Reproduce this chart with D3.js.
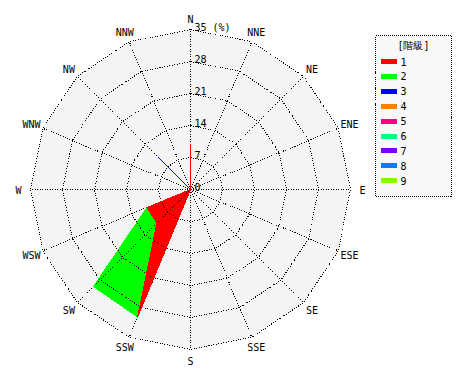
<!DOCTYPE html>
<html>
<head>
<meta charset="utf-8">
<script src="https://cdn.jsdelivr.net/npm/d3@7"></script>
<style>
  body { margin: 0; background: #fff; }
  text { font-family: "DejaVu Sans Mono", monospace; font-size: 10px; fill: #000; }
</style>
</head>
<body>
<div id="chart"></div>
<script>
// 16 directions, clockwise from north
var directions = ["N", "NNE", "NE", "ENE", "E", "ESE", "SE", "SSE",
                  "S", "SSW", "SW", "WSW", "W", "WNW", "NW", "NNW"];
var classes = ["1", "2", "3", "4", "5", "6", "7", "8", "9"];
var colors = ["#ff0000", "#00ff00", "#0000ff", "#ff8000", "#ff0080",
              "#00ff80", "#8000ff", "#0080ff", "#80ff00"];
var ringTicks = [0, 7, 14, 21, 28, 35];

// frequency (%) per class, per direction (same order as directions)
var class1 = [10, 0, 0, 0, 0, 0, 0, 0, 0, 30.2, 10.4, 10.3, 0, 0, 0, 0];
var class2 = [0, 0, 0, 0, 0, 0, 0, 0, 0, 0, 19.6, 0, 0, 0, 0, 0];
var class3 = [0, 0, 0, 0, 0, 0, 0, 0, 0, 0, 0, 0, 0, 0, 10, 0];
var class4 = [0, 0, 0, 0, 0, 0, 0, 0, 0, 0, 0, 0, 0, 0, 0, 0];
var class5 = [0, 0, 0, 0, 0, 0, 0, 0, 0, 0, 0, 0, 0, 0, 0, 0];
var class6 = [0, 0, 0, 0, 0, 0, 0, 0, 0, 0, 0, 0, 0, 0, 0, 0];
var class7 = [0, 0, 0, 0, 0, 0, 0, 0, 0, 0, 0, 0, 0, 0, 0, 0];
var class8 = [0, 0, 0, 0, 0, 0, 0, 0, 0, 0, 0, 0, 0, 0, 0, 0];
var class9 = [0, 0, 0, 0, 0, 0, 0, 0, 0, 0, 0, 0, 0, 0, 0, 0];
var series = [class1, class2, class3, class4, class5, class6, class7, class8, class9];

var svgWidth = 470, svgHeight = 380;
var cx = 190.5, cy = 189.5, radius = 160;

var svg = d3.select("#chart").append("svg")
  .attr("width", svgWidth)
  .attr("height", svgHeight)
  .attr("shape-rendering", "crispEdges");

var g = svg.append("g").attr("transform", `translate(${cx}, ${cy})`);

var r = d3.scaleLinear().domain([0, 35]).range([0, radius]);
var angle = d3.scaleLinear().domain([0, directions.length]).range([0, 2 * Math.PI]);

function pt(i, v) {
  var a = angle(i);
  return [Math.sin(a) * r(v), -Math.cos(a) * r(v)];
}

// background polygon
g.append("polygon")
  .attr("points", directions.map((d, i) => pt(i, 35).join(",")).join(" "))
  .attr("fill", "#f4f4f4");

// cumulative values; draw highest class first
var cumulative = [];
series.forEach(function(s, k) {
  cumulative.push(s.map((v, i) => v + (k > 0 ? cumulative[k - 1][i] : 0)));
});
var layers = cumulative.map((c, k) => ({ c: c, k: k })).reverse();

var radial = d3.lineRadial()
  .angle((d, i) => angle(i))
  .radius(d => r(d))
  .curve(d3.curveLinearClosed);

g.selectAll("path.fill")
  .data(layers)
  .enter().append("path")
  .attr("class", "fill")
  .attr("d", d => radial(d.c))
  .attr("fill", d => colors[d.k]);

// grid rings
g.selectAll("polygon.ring")
  .data(ringTicks.slice(1))
  .enter().append("polygon")
  .attr("class", "ring")
  .attr("points", t => directions.map((d, i) => pt(i, t).join(",")).join(" "))
  .attr("fill", "none")
  .attr("stroke", "#000")
  .attr("stroke-dasharray", "1,1.5");

// spokes
g.selectAll("line.spoke")
  .data(directions)
  .enter().append("line")
  .attr("class", "spoke")
  .attr("x1", 0).attr("y1", 0)
  .attr("x2", (d, i) => pt(i, 35)[0])
  .attr("y2", (d, i) => pt(i, 35)[1])
  .attr("stroke", "#000")
  .attr("stroke-dasharray", "1,1.5");

// outlines over the grid
g.selectAll("path.edge")
  .data(layers)
  .enter().append("path")
  .attr("class", "edge")
  .attr("d", d => radial(d.c))
  .attr("fill", "none")
  .attr("stroke", d => colors[d.k])
  .attr("stroke-width", 1);

// direction labels
g.selectAll("text.dir")
  .data(directions)
  .enter().append("text")
  .attr("class", "dir")
  .attr("x", (d, i) => Math.sin(angle(i)) * 172)
  .attr("y", (d, i) => -Math.cos(angle(i)) * 171 + 4)
  .attr("text-anchor", "middle")
  .text(d => d);

// ring labels
g.selectAll("text.tick")
  .data(ringTicks)
  .enter().append("text")
  .attr("class", "tick")
  .attr("x", 4)
  .attr("y", t => -r(t) + 1)
  .text(t => t);

g.append("text")
  .attr("x", 22)
  .attr("y", -r(35) + 1)
  .text("(%)");

// legend
var legend = svg.append("g").attr("transform", "translate(375.5, 35.5)");
legend.append("rect")
  .attr("width", 76).attr("height", 161)
  .attr("fill", "#f8f8f8")
  .attr("stroke", "#000")
  .attr("stroke-dasharray", "1,1");
legend.append("text")
  .attr("x", 38).attr("y", 13)
  .attr("text-anchor", "middle")
  .text("[階級]");

var item = legend.selectAll("g.item")
  .data(classes)
  .enter().append("g")
  .attr("class", "item")
  .attr("transform", (d, i) => `translate(0, ${26 + i * 14.9})`);
item.append("rect")
  .attr("x", 5).attr("y", -2.5)
  .attr("width", 16).attr("height", 5)
  .attr("fill", (d, i) => colors[i]);
item.append("text")
  .attr("x", 25).attr("y", 4)
  .text(d => d);
</script>
</body>
</html>
